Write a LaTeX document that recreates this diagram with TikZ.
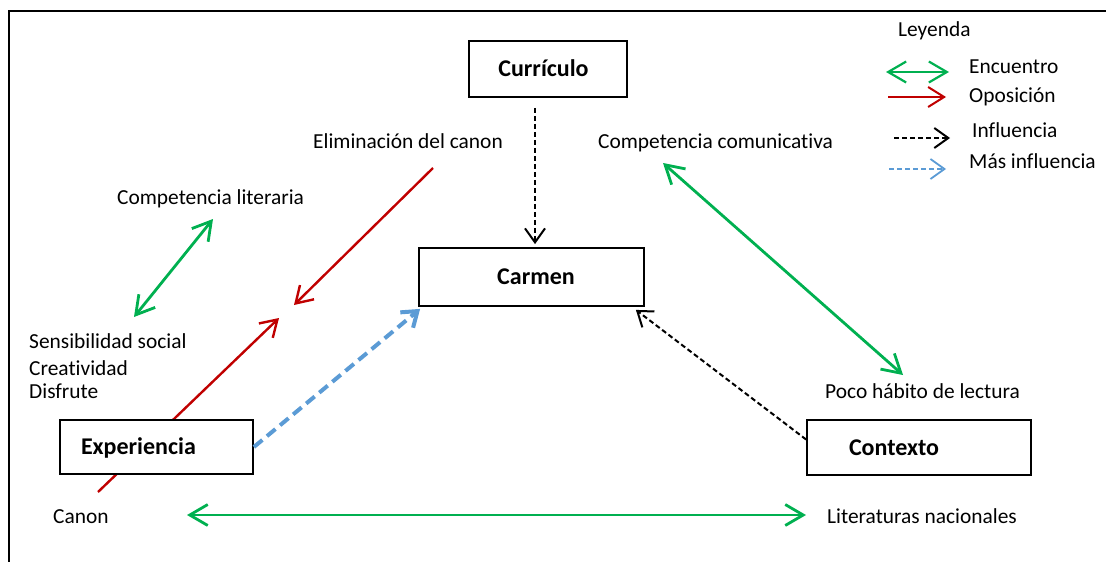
\documentclass[tikz,border=0pt]{standalone}
\usepackage{fontspec}
\setmainfont[Ligatures=NoCommon]{Carlito}
\usetikzlibrary{arrows.meta}
\definecolor{cgreen}{HTML}{00B050}
\definecolor{cred}{HTML}{C00000}
\definecolor{cblue}{HTML}{5B9BD5}
\tikzset{
  box/.style={draw, line width=1.8pt, fill=white, font=\fontsize{24}{28}\selectfont\bfseries, inner ysep=0pt, text height=15pt, text depth=0pt},
  lbl/.style={anchor=base west, inner sep=0pt},
  enc/.style={cgreen, line width=2.8pt, {Straight Barb[length=18pt,width=21pt]}-{Straight Barb[length=18pt,width=21pt]}},
  opo/.style={cred, line width=2.4pt, -{Straight Barb[length=16pt,width=20pt]}},
  inf/.style={black, line width=2pt, dash pattern=on 5pt off 3pt, -{Straight Barb[length=14pt,width=20pt]}},
  mas/.style={cblue, line width=4pt, dash pattern=on 11pt off 6pt, -{Straight Barb[length=14pt,width=20pt]}},
  masleg/.style={cblue, line width=1.8pt, dash pattern=on 5pt off 3pt, -{Straight Barb[length=14pt,width=20pt]}},
}
\begin{document}
\begin{tikzpicture}[x=1pt,y=-1pt,font=\fontsize{21.4}{25}\selectfont]
\useasboundingbox (0,0) rectangle (1106,562);
% frame
\draw[line width=2.5pt] (1106,11) -- (9,11) -- (9,562);

% free ends
\coordinate (rA) at (98,492);   \coordinate (rB) at (279,318);
\coordinate (rC) at (433,168);  \coordinate (rD) at (294,305);
\coordinate (gA) at (134,317);  \coordinate (gB) at (213,219);
\coordinate (gC) at (663,163);  \coordinate (gD) at (903,375);
\coordinate (hA) at (187,515);  \coordinate (hB) at (806,515);

% red line behind Experiencia
\draw[opo] (rA) -- (rB);

% boxes
\node[box, minimum width=158pt, minimum height=56pt] (cur) at (548,69) {Currículo\hspace*{9pt}};
\node[box, minimum width=225pt, minimum height=58pt] (car) at (531.5,277) {\hspace*{9pt}Carmen};
\node[box, text width=151pt, align=left, inner xsep=21pt, minimum height=54pt] (exp) at (156.5,447) {Experiencia};
\node[box, text width=140pt, align=left, inner xsep=42pt, minimum height=55pt] (con) at (919,447.5) {Contexto};

% labels
\node[lbl] (elim) at (313,148) {Eliminación del canon};
\node[lbl] (ccom) at (598,148) {Competencia comunicativa};
\node[lbl] (clit) at (117,204) {Competencia literaria};
\node[lbl] (sens) at (29,348) {Sensibilidad social};
\node[lbl] (crea) at (29,375) {Creatividad};
\node[lbl] (disf) at (29,398) {Disfrute};
\node[lbl] (canon) at (53,523) {Canon};
\node[lbl] (poco) at (825,398) {Poco hábito de lectura};
\node[lbl] (litn) at (827,523) {Literaturas nacionales};

% connectors
\draw[inf] ([xshift=-13pt,yshift=-10pt]cur.south) -- ([xshift=3.5pt,yshift=3pt]car.north);
\draw[inf] ([yshift=8pt]con.west) -- ([xshift=-9pt,yshift=-3pt]car.south east);
\draw[mas] (exp.east) -- ([xshift=2pt,yshift=-2pt]car.south west);
\draw[opo] (rC) -- (rD);
\draw[enc] (gA) -- (gB);
\draw[enc] (gC) -- (gD);
\draw[enc] (hA) -- (hB);

% legend
\node[lbl] (ley) at (898,36) {Leyenda};
\coordinate (l1a) at (886,72);  \coordinate (l1b) at (949,72);
\coordinate (l2a) at (888,97);  \coordinate (l2b) at (946,97);
\coordinate (l3a) at (894,138); \coordinate (l3b) at (950,138);
\coordinate (l4a) at (889,169); \coordinate (l4b) at (946,169);
\draw[enc, line width=2.2pt] (l1a) -- (l1b);
\draw[opo, line width=2pt] (l2a) -- (l2b);
\draw[inf] (l3a) -- (l3b);
\draw[masleg] (l4a) -- (l4b);
\node[lbl] (encu) at (969,73) {Encuentro};
\node[lbl] (opos) at (969,102) {Oposición};
\node[lbl] (infl) at (972,137) {Influencia};
\node[lbl] (masi) at (969,168) {Más influencia};
\end{tikzpicture}
\end{document}
